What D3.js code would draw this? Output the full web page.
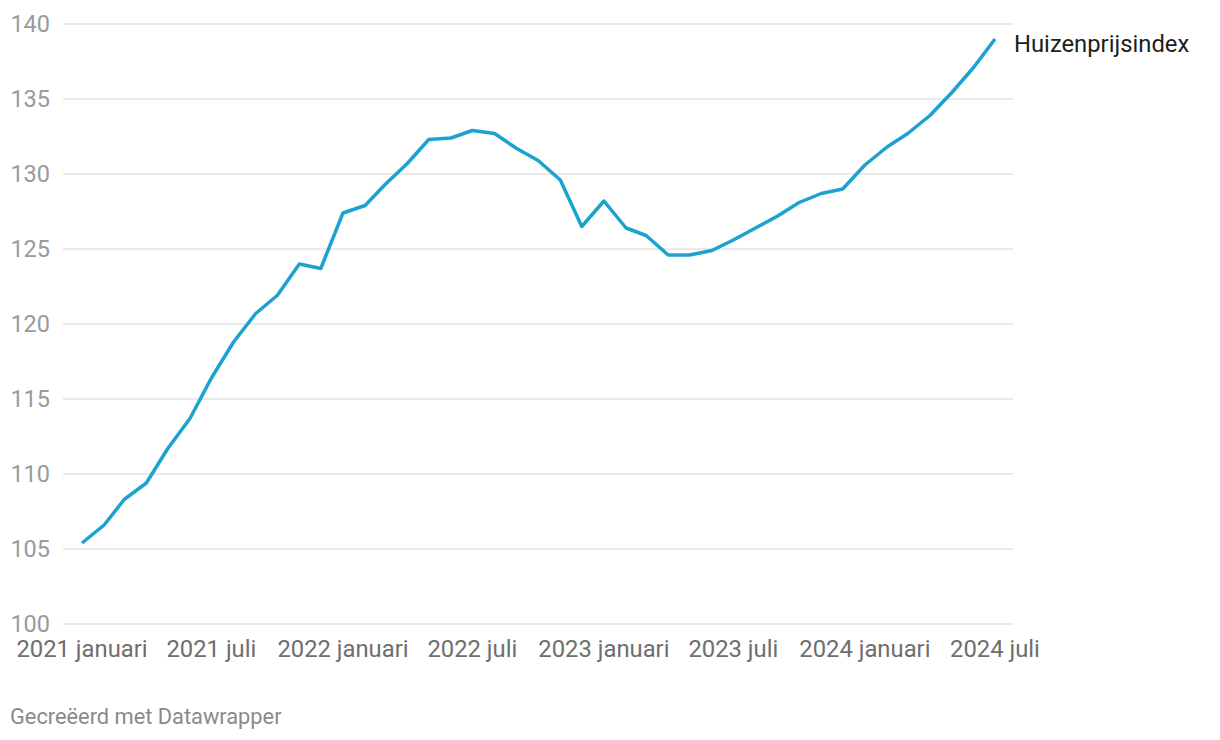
<!DOCTYPE html>
<html>
<head>
<meta charset="utf-8">
<script src="https://cdn.jsdelivr.net/npm/d3@7"></script>
<style>
  html, body { margin: 0; padding: 0; background: #fff; }
  svg { display: block; font-family: Roboto, "Noto Sans", sans-serif; }
</style>
</head>
<body>
<svg id="chart" width="1220" height="740"></svg>
<script>
const months = [
  "2021-01","2021-02","2021-03","2021-04","2021-05","2021-06","2021-07","2021-08","2021-09","2021-10","2021-11","2021-12",
  "2022-01","2022-02","2022-03","2022-04","2022-05","2022-06","2022-07","2022-08","2022-09","2022-10","2022-11","2022-12",
  "2023-01","2023-02","2023-03","2023-04","2023-05","2023-06","2023-07","2023-08","2023-09","2023-10","2023-11","2023-12",
  "2024-01","2024-02","2024-03","2024-04","2024-05","2024-06","2024-07"
];
const huizenprijsindex = [
  105.4, 106.6, 108.3, 109.4, 111.7, 113.7, 116.4, 118.8, 120.7, 121.9, 124.0, 123.7,
  127.4, 127.9, 129.3, 130.7, 132.3, 132.4, 132.9, 132.7, 131.7, 130.9, 129.6, 126.5,
  128.2, 126.4, 125.9, 124.6, 124.6, 124.9, 125.6, 126.4, 127.2, 128.1, 128.7, 129.0,
  130.6, 131.8, 132.7, 133.9, 135.4, 137.1, 139.0
];
const yTicks = [100, 105, 110, 115, 120, 125, 130, 135, 140];
const xTickDates = ["2021-01","2021-07","2022-01","2022-07","2023-01","2023-07","2024-01","2024-07"];
const xTickLabels = ["2021 januari","2021 juli","2022 januari","2022 juli","2023 januari","2023 juli","2024 januari","2024 juli"];
const seriesName = "Huizenprijsindex";
const credit = "Gecreëerd met Datawrapper";

const parse = d3.timeParse("%Y-%m");
const data = months.map((m, i) => ({ date: parse(m), value: huizenprijsindex[i] }));

const svg = d3.select("#chart");
const x = d3.scaleTime()
  .domain([parse("2021-01"), parse("2024-07")])
  .range([82, 995]);
const y = d3.scaleLinear().domain([100, 140]).range([624, 24]);

// grid
svg.append("g").selectAll("line").data(yTicks).join("line")
  .attr("x1", 63).attr("x2", 1013)
  .attr("y1", d => y(d)).attr("y2", d => y(d))
  .attr("stroke", "#e3e3e3").attr("stroke-width", 1.3);

// y labels
svg.append("g").selectAll("text").data(yTicks).join("text")
  .attr("x", 50).attr("y", d => y(d))
  .attr("text-anchor", "end").attr("dominant-baseline", "central")
  .attr("fill", "#9a9a9a").attr("font-size", 23.5)
  .text(d => d);

// x labels
svg.append("g").selectAll("text").data(xTickDates).join("text")
  .attr("x", d => x(parse(d))).attr("y", 657)
  .attr("text-anchor", "middle")
  .attr("fill", "#6e6e6e").attr("font-size", 23.8)
  .text((d, i) => xTickLabels[i]);

// line
const line = d3.line().x(d => x(d.date)).y(d => y(d.value));
svg.append("path").datum(data)
  .attr("d", line)
  .attr("fill", "none").attr("stroke", "#1ba2cf")
  .attr("stroke-width", 3.5).attr("stroke-linejoin", "round").attr("stroke-linecap", "butt");

// series label
const last = data[data.length - 1];
svg.append("text")
  .attr("x", x(last.date) + 19).attr("y", y(last.value) + 13)
  .attr("fill", "#1d1d1d").attr("font-size", 23.8)
  .text(seriesName);

// credit
svg.append("text")
  .attr("x", 10).attr("y", 724)
  .attr("fill", "#8a8a8a").attr("font-size", 21.8)
  .text(credit);
</script>
</body>
</html>
